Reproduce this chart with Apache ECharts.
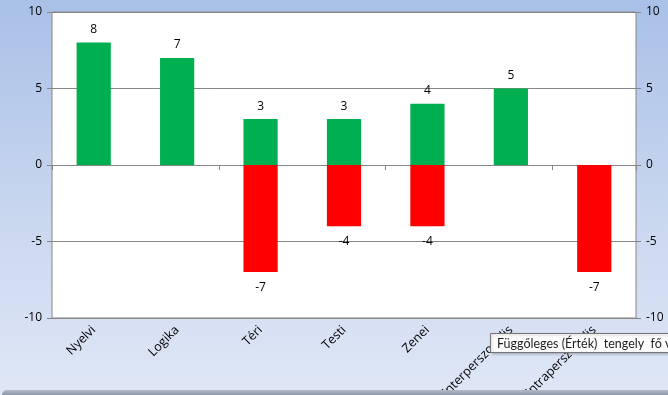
<!DOCTYPE html>
<html>
<head>
<meta charset="utf-8">
<script src="https://cdn.jsdelivr.net/npm/echarts@6/dist/echarts.min.js"></script>
<style>html,body{margin:0;padding:0;}#c{width:668px;height:395px;}</style>
</head>
<body>
<div id="c"></div>
<script>
const categories = ['Nyelvi', 'Logika', 'Téri', 'Testi', 'Zenei', 'Interperszonális', 'Intraperszonális'];
const positiveValues = [8, 7, 3, 3, 4, 5, null];
const negativeValues = [null, null, -7, -4, -4, null, -7];
const yTicks = { min: -10, max: 10, interval: 5 };
const tooltipText = 'Függőleges (Érték)  tengely  fő vezetővonalai';

const FONT = '"Open Sans", "Liberation Sans", sans-serif';
const chart = echarts.init(document.getElementById('c'), null, { renderer: 'canvas' });
chart.setOption({
  animation: false,
  textStyle: { fontFamily: FONT },
  graphic: [
    {
      type: 'rect', z: -10, silent: true,
      shape: { x: 0, y: 0, width: 668, height: 395 },
      style: { fill: new echarts.graphic.LinearGradient(0, 0, 0, 1, [
        { offset: 0, color: '#a9c0e7' },
        { offset: 0.6, color: '#ccd9f0' },
        { offset: 1, color: '#dfe7f6' }
      ]) }
    },
    {
      type: 'rect', z: 100, silent: true,
      shape: { x: 2, y: 390, width: 680, height: 12, r: 5 },
      style: { fill: new echarts.graphic.LinearGradient(0, 0, 0, 1, [
        { offset: 0, color: '#b4bccb' },
        { offset: 0.4, color: '#8f98a8' },
        { offset: 1, color: '#7d8696' }
      ]) }
    },
    {
      type: 'rect', z: 300, zlevel: 1, silent: true,
      shape: { x: 490.5, y: 333.5, width: 200, height: 19 },
      style: { fill: '#fdfdfd', stroke: '#767676', lineWidth: 1, shadowBlur: 3, shadowColor: 'rgba(0,0,0,0.25)', shadowOffsetX: 1, shadowOffsetY: 1 }
    },
    {
      type: 'text', z: 301, zlevel: 1, silent: true,
      style: { x: 497, y: 343.5, text: tooltipText, fill: '#1e1e1e', font: '12.5px Lato, "Liberation Sans", sans-serif', verticalAlign: 'middle' }
    }
  ],
  grid: {
    left: 52, right: 32, top: 12, bottom: 77,
    outerBoundsMode: 'none', containLabel: false,
    show: true, backgroundColor: '#ffffff', borderColor: '#868686', borderWidth: 1
  },
  xAxis: [
    {
      type: 'category', data: categories, position: 'bottom',
      axisLine: { show: false, onZero: false },
      axisTick: { show: false },
      axisLabel: { rotate: 45, margin: 10, color: '#000', fontSize: 12.5, interval: 0 }
    },
    {
      type: 'category', data: categories, position: 'bottom',
      axisLine: { show: true, onZero: true, lineStyle: { color: '#868686' } },
      axisTick: { show: true, length: 5, lineStyle: { color: '#868686' } },
      axisLabel: { show: false }
    }
  ],
  yAxis: [
    {
      type: 'value', position: 'left', min: yTicks.min, max: yTicks.max, interval: yTicks.interval,
      axisLine: { show: false },
      axisTick: { show: true, length: 5, lineStyle: { color: '#868686' } },
      axisLabel: { color: '#000', fontSize: 12, margin: 10 },
      splitLine: { show: true, lineStyle: { color: '#868686' } }
    },
    {
      type: 'value', position: 'right', min: yTicks.min, max: yTicks.max, interval: yTicks.interval,
      axisLine: { show: false },
      axisTick: { show: true, length: 5, lineStyle: { color: '#868686' } },
      axisLabel: { color: '#000', fontSize: 12, margin: 10 },
      splitLine: { show: false }
    }
  ],
  series: [
    {
      type: 'bar', data: positiveValues, barWidth: '41%', barGap: '-100%',
      itemStyle: { color: '#00b050' },
      label: { show: true, position: 'top', distance: 7, color: '#000', fontSize: 12 }
    },
    {
      type: 'bar', data: negativeValues, barWidth: '41%', barGap: '-100%',
      itemStyle: { color: '#ff0000' },
      label: { show: true, position: 'bottom', distance: 9, color: '#000', fontSize: 12 }
    }
  ]
});
</script>
</body>
</html>
